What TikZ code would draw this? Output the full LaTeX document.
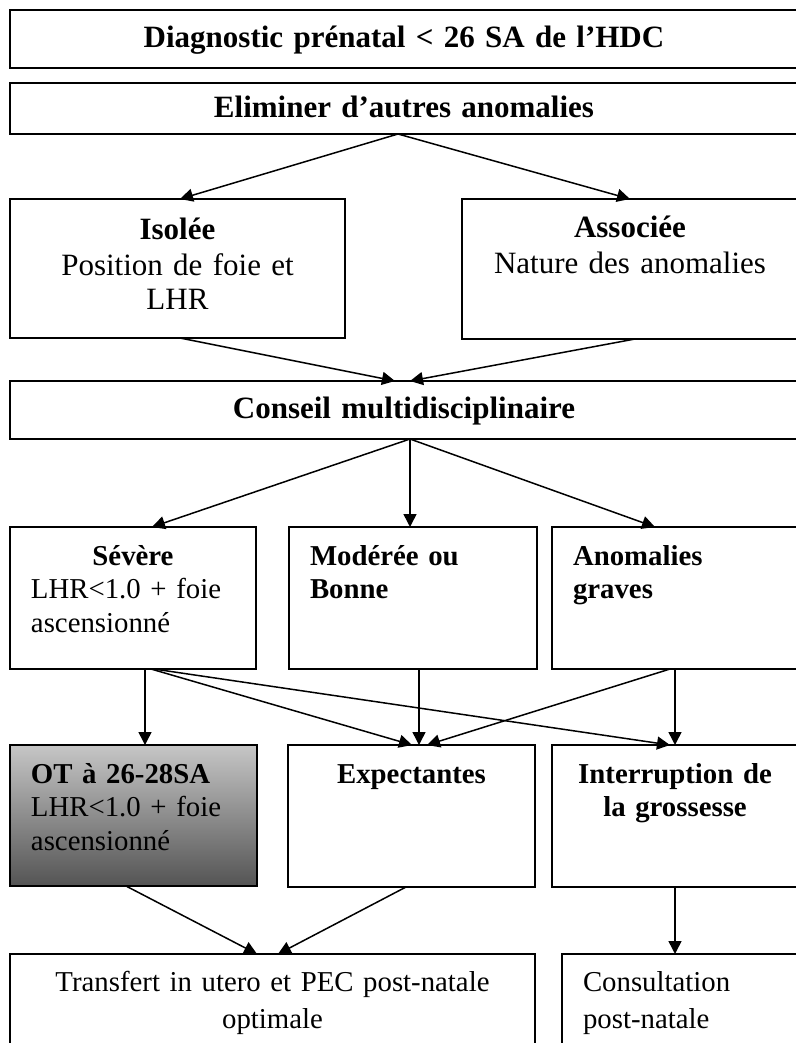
\documentclass[tikz,border=0pt]{standalone}
\usepackage{fontspec}
\setmainfont{Liberation Serif}
\usetikzlibrary{arrows.meta,positioning}

\definecolor{otlight}{RGB}{198,198,198}
\definecolor{otdark}{RGB}{84,84,84}

\begin{document}
\begin{tikzpicture}[x=0.5pt,y=-0.5pt,->,>={Triangle[length=6.5pt,width=6.5pt]},line width=0.75pt,
	font=\fontsize{15.5}{17.5}\selectfont]
	\tikzstyle{cell}=[draw,line width=0.8pt,anchor=north west,outer sep=0pt,inner xsep=10.5pt,inner ysep=0pt,text height=19pt]
	\tikzstyle{lower}=[font=\fontsize{14.4}{16.75}\selectfont]
	\tikzstyle{bottom}=[font=\fontsize{14.4}{18.5}\selectfont]
	\tikzset{wide/.style={text width=#1*0.5pt-21pt}}

	\useasboundingbox (0,0) rectangle (796,1043);
	\clip (0,0) rectangle (796,1043);

	% rangées du haut
	\node[cell,wide=788,text depth=10pt,align=center] (diag) at (10,10) {\bfseries Diagnostic prénatal < 26 SA de l’HDC};
	\node[cell,wide=788,text height=17.5pt,text depth=8pt,align=center] (elim) at (10,83) {\bfseries Eliminer d’autres anomalies};
	\node[cell,wide=335,text height=20.5pt,text depth=49pt,align=center] (iso) at (10,199) {\textbf{Isolée}\\Position de foie et\\LHR};
	\node[cell,wide=336,text height=19.5pt,text depth=50.5pt,align=center] (asso) at (462,199) {\textbf{Associée}\\Nature des anomalies};
	\node[cell,wide=788,text height=18.5pt,text depth=10.5pt,align=center] (conseil) at (10,381) {\bfseries Conseil multidisciplinaire};

	% pronostic
	\node[cell,lower,wide=246,text depth=52pt,align=left] (sev) at (10,527) {{\centering\bfseries Sévère\par}LHR<1.0 + foie\\ascensionné};
	\node[cell,lower,wide=248,text depth=52pt,align=left] (mod) at (289,527) {\bfseries Modérée ou\\Bonne};
	\node[cell,lower,wide=246,text depth=52pt,align=left] (anom) at (552,527) {\bfseries Anomalies\\graves};

	% prise en charge
	\node[cell,lower,wide=247,text depth=51.5pt,align=left,top color=otlight,bottom color=otdark] (ot) at (10,745) {\textbf{OT à 26-28SA}\\LHR<1.0 + foie\\ascensionné};
	\node[cell,lower,wide=247,text depth=52pt,align=center] (expe) at (288,745) {\bfseries Expectantes};
	\node[cell,lower,wide=246,text depth=52pt,align=center] (inter) at (552,745) {\bfseries Interruption de\\la grossesse};

	\node[cell,bottom,wide=525,text height=18.5pt,text depth=41pt,align=center] (trans) at (10,954) {Transfert in utero et PEC post-natale\\optimale};
	\node[cell,bottom,wide=236,text height=18.5pt,text depth=41pt,align=left] (consult) at (562,954) {Consultation\\post-natale};

	\coordinate (cs) at ([xshift=3pt]conseil.south);

	\path ([xshift=-3pt]elim.south) edge ([xshift=1.25pt]iso.north);
	\path ([xshift=-3pt]elim.south) edge (asso.north);
	\path ([xshift=1.25pt]iso.south) edge ([xshift=-4.5pt]conseil.north);
	\path ([xshift=2.5pt]asso.south) edge ([xshift=3pt]conseil.north);

	\path (cs) edge ([xshift=9.5pt]sev.north);
	\path (cs) edge (cs |- mod.north);
	\path (cs) edge ([xshift=-10pt]anom.north);

	\path ([xshift=6pt]sev.south) edge ([xshift=5.75pt]ot.north);
	\path ([xshift=9pt]sev.south) edge ([xshift=0.25pt]expe.north);
	\path ([xshift=10.5pt]sev.south) edge ([xshift=-2.5pt]inter.north);
	\path ([xshift=3pt]mod.south) edge ([xshift=3.75pt]expe.north);
	\path ([xshift=-2.5pt]anom.south) edge ([xshift=7.75pt]expe.north);
	\path (anom.south) edge (inter.north);

	\path ([xshift=-3.75pt]ot.south) edge ([xshift=-7.75pt]trans.north);
	\path ([xshift=-2.75pt]expe.south) edge ([xshift=2.75pt]trans.north);
	\path (inter.south) edge (inter.south |- consult.north);
\end{tikzpicture}
\end{document}
